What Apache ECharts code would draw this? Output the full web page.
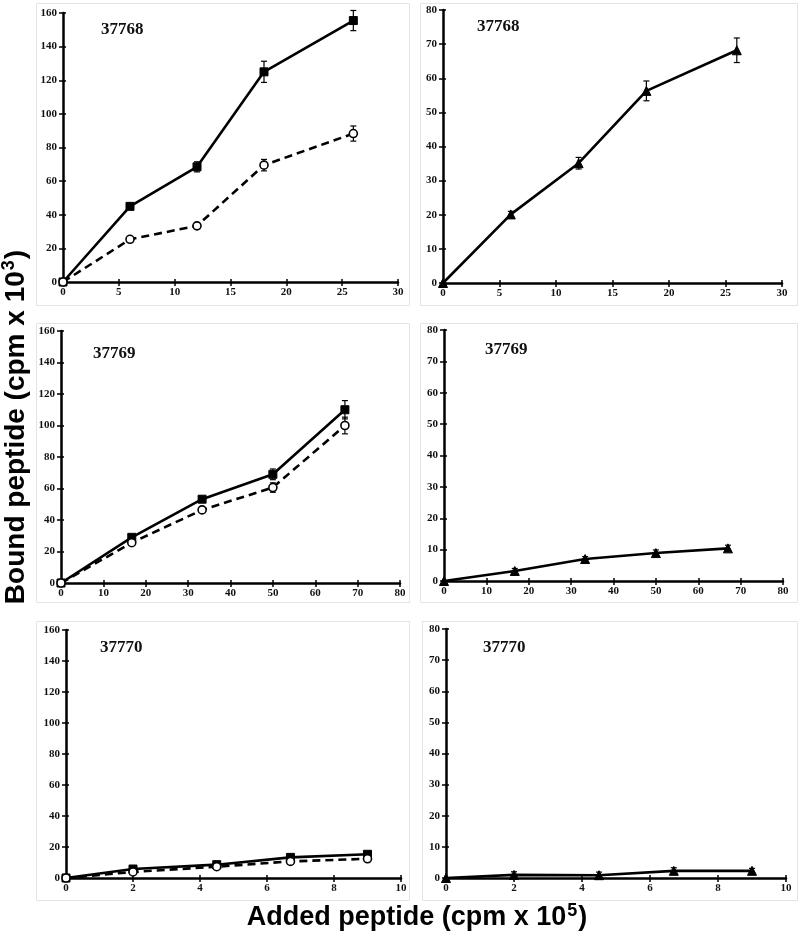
<!DOCTYPE html>
<html><head><meta charset="utf-8">
<script src="https://cdn.jsdelivr.net/npm/echarts@6/dist/echarts.min.js"></script>
<style>html,body{margin:0;padding:0;background:#fff}#c{width:800px;height:935px}</style>
</head><body><div id="c"></div>
<script>
// ---------- data ----------
const labels = ['37768','37768','37769','37769','37770','37770'];
const xAxisTitle = 'Added peptide (cpm x 10';
const yAxisTitle = 'Bound peptide (cpm x 10';

const p1X = [0, 6, 12, 18, 26];
const p1Sq = [0, 45, 68.5, 125, 155.5];
const p1SqErr = [0, 1, 3, 6.3, 6];
const p1Ci = [0, 25.4, 33.4, 69.5, 88.3];
const p1CiErr = [0, 1, 1, 3.4, 4.5];

const p2X = [0, 6, 12, 18, 26];
const p2Tri = [0, 20.1, 35.1, 56.3, 68.2];
const p2TriErr = [0, 0.9, 1.7, 2.9, 3.6];

const p3X = [0, 16.7, 33.3, 50, 67];
const p3Sq = [0, 29, 53.2, 69, 110];
const p3SqErr = [0, 1, 1.5, 3.4, 5.8];
const p3Ci = [0, 25.6, 46.4, 60.6, 100];
const p3CiErr = [0, 1, 1, 3, 5.3];

const p4X = [0, 16.7, 33.3, 50, 67];
const p4Tri = [0, 3.2, 7.0, 8.9, 10.4];
const p4TriErr = [0, 0.8, 0.8, 1, 1];

const p5X = [0, 2, 4.5, 6.7, 9];
const p5Sq = [0, 5.8, 8.6, 13.3, 15.3];
const p5SqErr = [0, 1, 1, 1, 1];
const p5Ci = [0, 3.9, 7.3, 10.7, 12.4];
const p5CiErr = [0, 0.8, 0.8, 0.8, 0.8];

const p6X = [0, 2, 4.5, 6.7, 9];
const p6Tri = [0, 1, 0.9, 2.3, 2.3];
const p6TriErr = [0, 1, 1, 1, 0.8];

const xMax = [30, 30, 80, 80, 10, 10];
const xInt = [5, 5, 10, 10, 2, 2];
const yMax = [160, 80, 160, 80, 160, 80];
const yInt = [20, 10, 20, 10, 20, 10];

// ---------- layout ----------
const grids = [
  {left: 63, top: 13, width: 335, height: 269},
  {left: 443, top: 10, width: 339, height: 273},
  {left: 61, top: 331, width: 339, height: 252},
  {left: 444, top: 330, width: 339, height: 251},
  {left: 66, top: 630, width: 335, height: 248},
  {left: 446, top: 629, width: 340, height: 249}
];
const boxes = [
  [36, 3, 373, 302], [420, 3, 377, 302],
  [36, 323, 373, 279], [420, 323, 377, 279],
  [36, 621, 373, 279], [422, 621, 375, 279]
];
const labelPos = [[101, 21], [477, 18], [93, 345], [485, 341], [100, 639], [483, 639]];

const tickFont = {fontFamily: 'Liberation Serif', fontWeight: 'bold', fontSize: 11, color: '#111'};

const xAxes = [], yAxes = [], series = [];
grids.forEach((g, i) => {
  const base = {min: 0, max: xMax[i], interval: xInt[i], gridIndex: i, splitLine: {show: false}};
  xAxes.push(Object.assign({}, base, {
    type: 'value', position: 'bottom',
    axisLine: {show: true, onZero: false, lineStyle: {color: '#000', width: 2.5}},
    axisTick: {show: true, length: 4, lineStyle: {color: '#000', width: 1.5}},
    axisLabel: Object.assign({margin: 5}, tickFont)
  }));
  xAxes.push(Object.assign({}, base, {
    type: 'value', position: 'bottom',
    axisLine: {show: false},
    axisTick: {show: true, inside: true, length: 3, lineStyle: {color: '#000', width: 1.5}},
    axisLabel: {show: false}
  }));
  const ybase = {min: 0, max: yMax[i], interval: yInt[i], gridIndex: i, splitLine: {show: false}};
  yAxes.push(Object.assign({}, ybase, {
    type: 'value', position: 'left',
    axisLine: {show: true, onZero: false, lineStyle: {color: '#000', width: 2.5}},
    axisTick: {show: true, length: 4, lineStyle: {color: '#000', width: 1.5}},
    axisLabel: Object.assign({margin: 6}, tickFont)
  }));
  yAxes.push(Object.assign({}, ybase, {
    type: 'value', position: 'left',
    axisLine: {show: false},
    axisTick: {show: true, inside: true, length: 3, lineStyle: {color: '#000', width: 1.5}},
    axisLabel: {show: false}
  }));
});

function errSeries(i, xs, ys, es) {
  return {
    type: 'custom', xAxisIndex: 2 * i, yAxisIndex: 2 * i, z: 3,
    data: xs.map((x, k) => [x, ys[k] - es[k], ys[k] + es[k]]),
    renderItem: function (params, api) {
      const lo = api.coord([api.value(0), api.value(1)]);
      const hi = api.coord([api.value(0), api.value(2)]);
      if (Math.abs(hi[1] - lo[1]) < 1) return null;
      const w = 3;
      const st = {stroke: '#000', lineWidth: 1.2};
      return {type: 'group', children: [
        {type: 'line', shape: {x1: lo[0], y1: lo[1], x2: hi[0], y2: hi[1]}, style: st},
        {type: 'line', shape: {x1: lo[0] - w, y1: lo[1], x2: lo[0] + w, y2: lo[1]}, style: st},
        {type: 'line', shape: {x1: hi[0] - w, y1: hi[1], x2: hi[0] + w, y2: hi[1]}, style: st}
      ]};
    }
  };
}
function lineSeries(i, xs, ys, kind) {
  const s = {
    type: 'line', xAxisIndex: 2 * i, yAxisIndex: 2 * i, z: 4,
    data: xs.map((x, k) => [x, ys[k]]),
    symbolSize: 8, showSymbol: true, animation: false,
    lineStyle: {color: '#000', width: 2.6}
  };
  if (kind === 'sq') {
    s.symbol = 'rect'; s.symbolSize = 8;
    s.itemStyle = {color: '#000', borderColor: '#000'};
  } else if (kind === 'ci') {
    s.symbol = 'circle'; s.symbolSize = 8;
    s.itemStyle = {color: '#fff', borderColor: '#000', borderWidth: 1.6};
    s.lineStyle.type = [8, 5];
    s.z = 5;
  } else {
    s.symbol = 'triangle'; s.symbolSize = 9;
    s.itemStyle = {color: '#000', borderColor: '#000'};
  }
  return s;
}

series.push(errSeries(0, p1X, p1Sq, p1SqErr), lineSeries(0, p1X, p1Sq, 'sq'));
series.push(errSeries(0, p1X, p1Ci, p1CiErr), lineSeries(0, p1X, p1Ci, 'ci'));
series.push(errSeries(1, p2X, p2Tri, p2TriErr), lineSeries(1, p2X, p2Tri, 'tri'));
series.push(errSeries(2, p3X, p3Sq, p3SqErr), lineSeries(2, p3X, p3Sq, 'sq'));
series.push(errSeries(2, p3X, p3Ci, p3CiErr), lineSeries(2, p3X, p3Ci, 'ci'));
series.push(errSeries(3, p4X, p4Tri, p4TriErr), lineSeries(3, p4X, p4Tri, 'tri'));
series.push(errSeries(4, p5X, p5Sq, p5SqErr), lineSeries(4, p5X, p5Sq, 'sq'));
series.push(errSeries(4, p5X, p5Ci, p5CiErr), lineSeries(4, p5X, p5Ci, 'ci'));
series.push(errSeries(5, p6X, p6Tri, p6TriErr), lineSeries(5, p6X, p6Tri, 'tri'));

const graphics = [];
boxes.forEach(b => graphics.push({
  type: 'rect', z: -10, shape: {x: b[0] + 0.5, y: b[1] + 0.5, width: b[2], height: b[3]},
  style: {fill: 'none', stroke: '#e4e4e4', lineWidth: 1}, silent: true
}));
labels.forEach((t, i) => graphics.push({
  type: 'text', x: labelPos[i][0], y: labelPos[i][1],
  style: {text: t, fontFamily: 'Liberation Serif', fontWeight: 'bold', fontSize: 17, fill: '#111'}
}));
function richFor(size, supSize, lift) {
  return {
    a: {fontFamily: 'Liberation Sans', fontWeight: 'bold', fontSize: size, fill: '#000', color: '#000'},
    s: {fontFamily: 'Liberation Sans', fontWeight: 'bold', fontSize: supSize, fill: '#000', color: '#000', padding: [0, 1, lift, 1]}
  };
}
graphics.push({
  type: 'text', x: 417, y: 918,
  style: {text: '{a|' + xAxisTitle + '}{s|5}{a|)}', rich: richFor(27, 18, 13), align: 'center', verticalAlign: 'middle'}
});
graphics.push({
  type: 'text', x: 16, y: 427, rotation: Math.PI / 2,
  style: {text: '{a|' + yAxisTitle + '}{s|3}{a|)}', rich: richFor(28, 18, 13), align: 'center', verticalAlign: 'middle'}
});

const chart = echarts.init(document.getElementById('c'), null, {renderer: 'canvas'});
chart.setOption({
  animation: false,
  backgroundColor: '#fff',
  grid: grids.map(g => Object.assign({containLabel: false}, g)),
  xAxis: xAxes, yAxis: yAxes, series: series, graphic: graphics
});
</script></body></html>
